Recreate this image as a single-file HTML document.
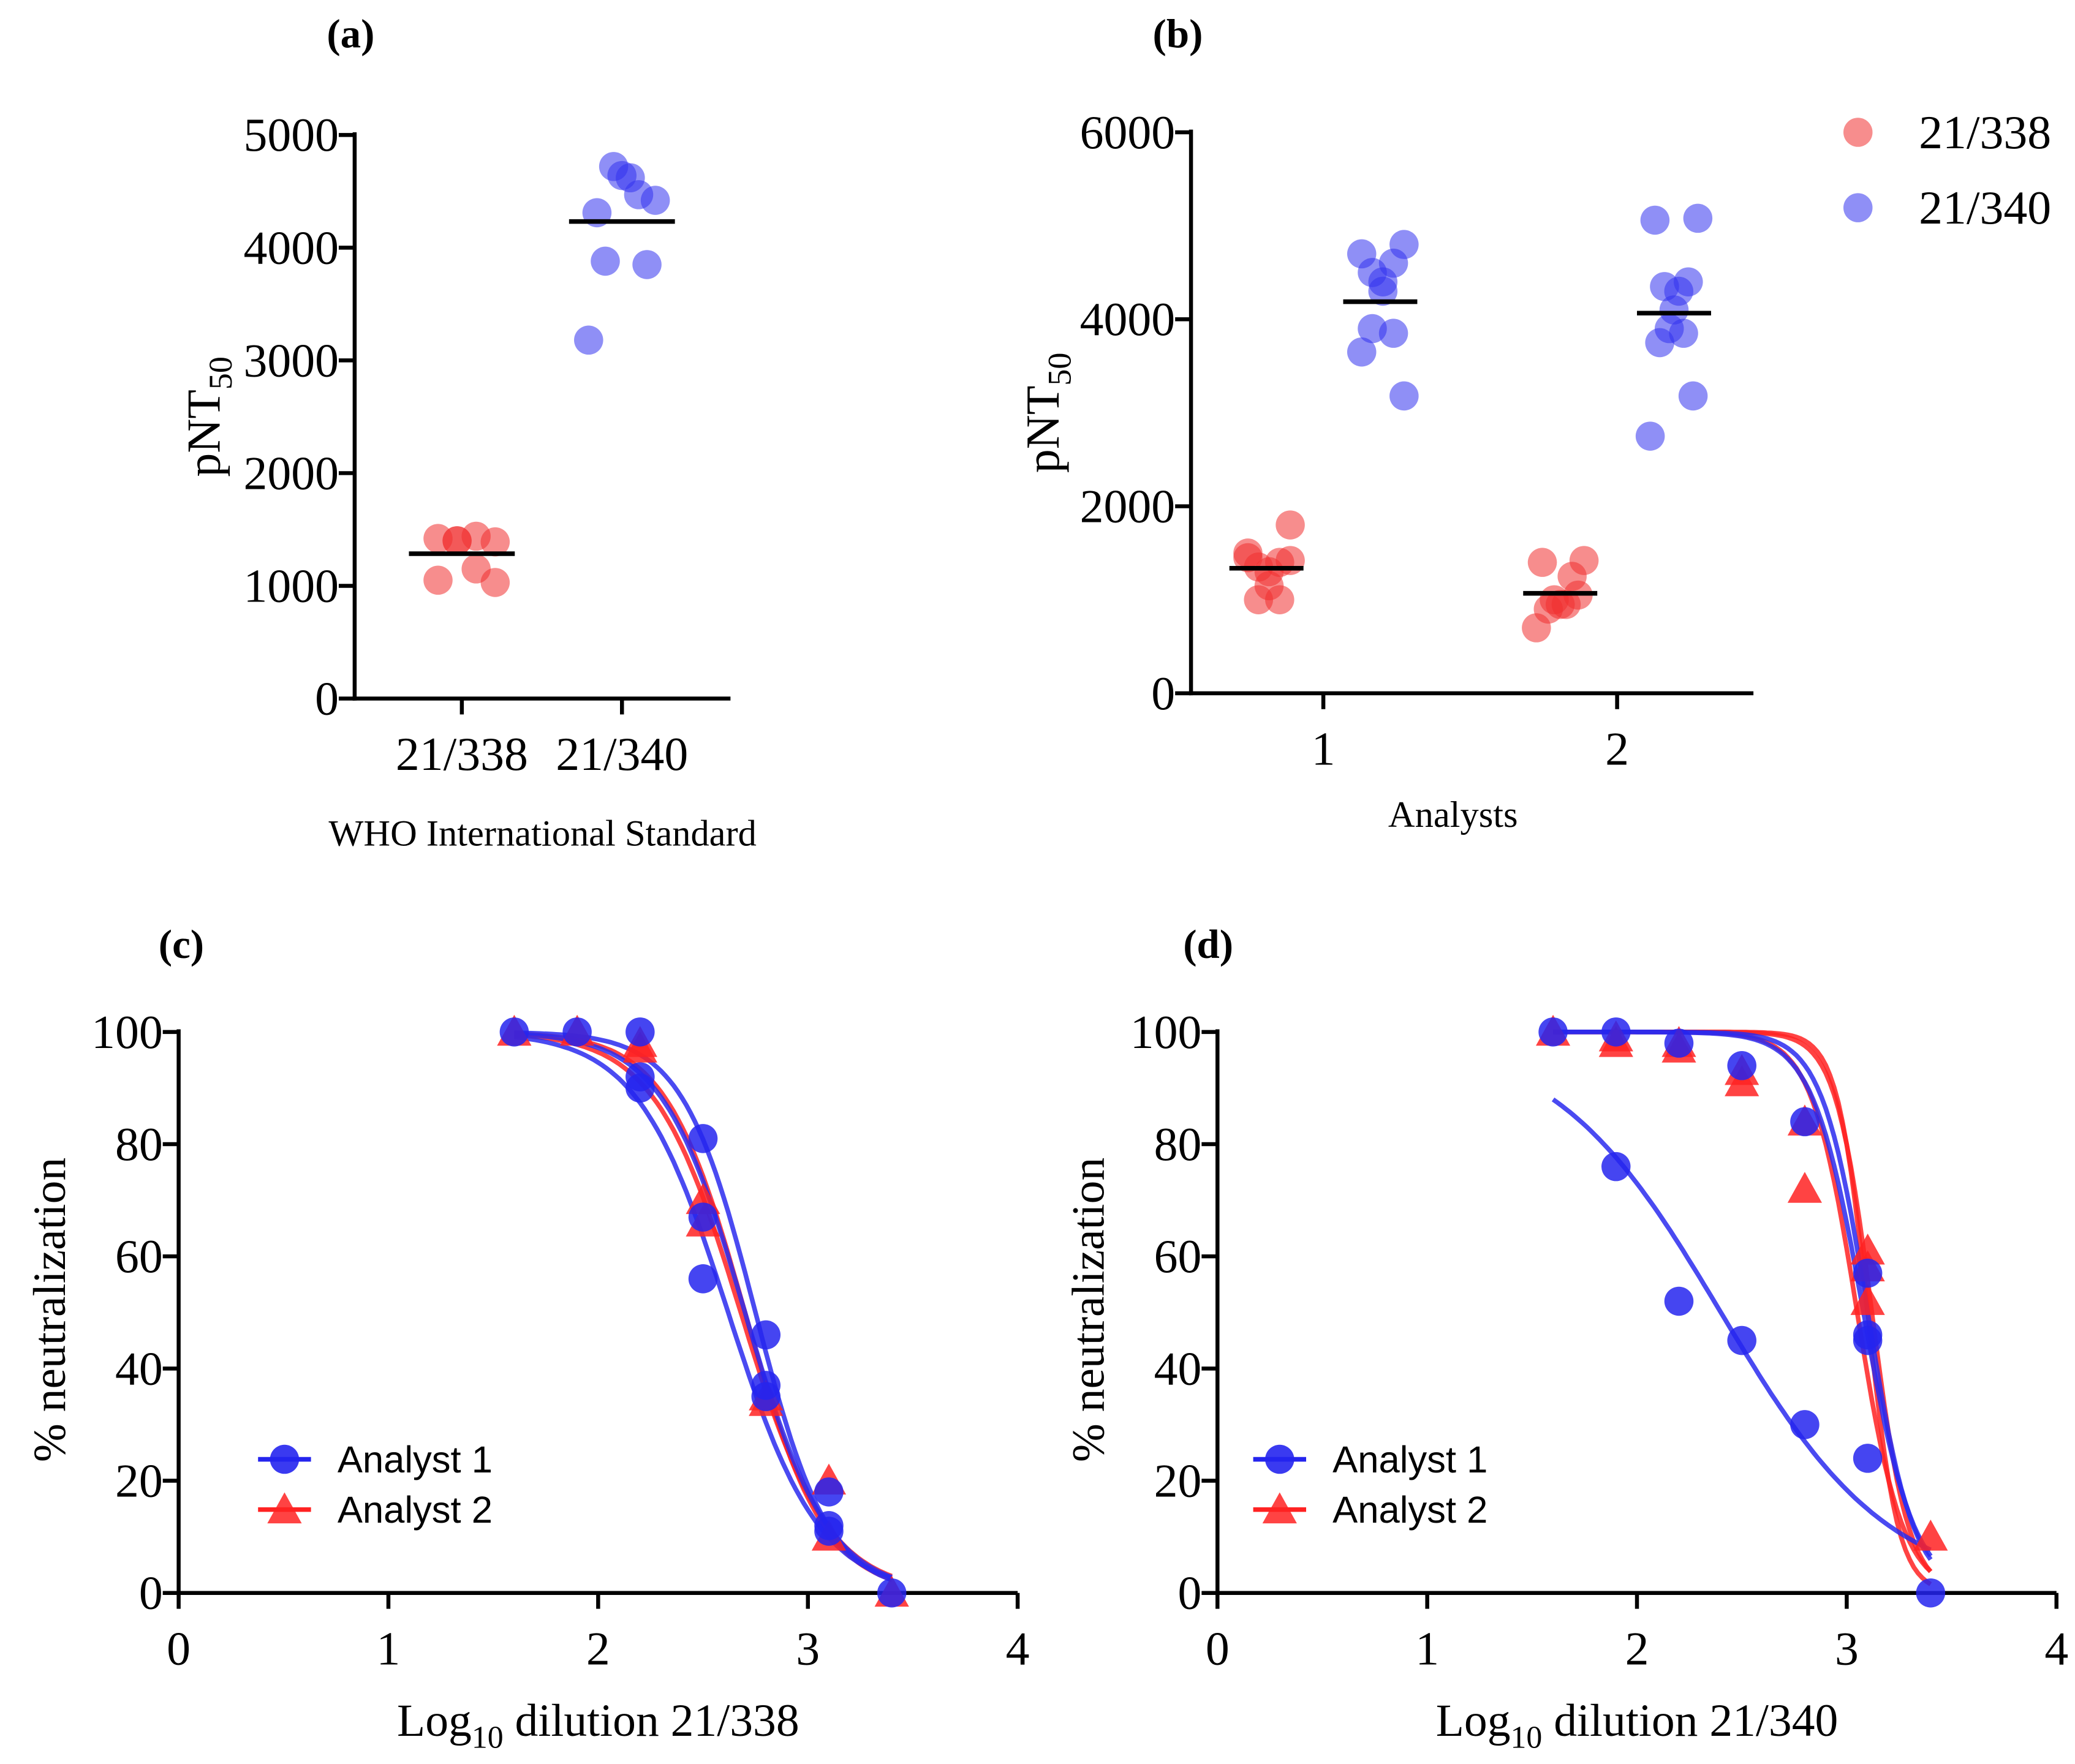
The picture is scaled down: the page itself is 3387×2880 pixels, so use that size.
<!DOCTYPE html>
<html><head><meta charset="utf-8"><style>
html,body{margin:0;padding:0;background:#fff}
svg{display:block}
text{font-family:"Liberation Serif",serif;fill:#000}
.sans{font-family:"Liberation Sans",sans-serif}
</style></head><body>
<svg id="fig" width="3387" height="2880" viewBox="0 0 1568 1333.3" preserveAspectRatio="none" xmlns="http://www.w3.org/2000/svg">
<text x="265" y="36" font-size="31" font-weight="bold" text-anchor="middle">(a)</text>
<text x="890" y="36" font-size="31" font-weight="bold" text-anchor="middle">(b)</text>
<text x="137" y="724" font-size="31" font-weight="bold" text-anchor="middle">(c)</text>
<text x="913" y="724" font-size="31" font-weight="bold" text-anchor="middle">(d)</text>
</svg>
<script>
// Panel a data
const aCats=["21/338","21/340"];
const aRed=[1390,1420,1440,1400,1400,1150,1050,1030];
const aBlue=[4420,4310,4470,4720,4640,4620,3880,3850,3180];
const aTicks=[0,1000,2000,3000,4000,5000];
// Panel b data
const bCats=["1","2"];
const bRed1=[1800,1450,1400,1350,1300,1150,1000,1000,1500,1420];
const bBlue1=[4800,4700,4600,4500,4400,4300,3900,3850,3650,3180];
const bRed2=[1420,1400,1250,1000,950,950,900,1050,700];
const bBlue2=[5080,5060,4400,4350,4300,4100,3900,3850,3750,3180,2750];
const bTicks=[0,2000,4000,6000];
// Panel c/d data
const doses=[1.6,1.9,2.2,2.5,2.8,3.1,3.4];
const xTicks=[0,1,2,3,4];
const yTicks=[0,20,40,60,80,100];
const cBluePts=[[1.6,100],[1.9,100],[2.2,100],[2.2,92],[2.2,90],[2.5,81],[2.5,67],[2.5,56],[2.8,46],[2.8,37],[2.8,35],[3.1,18],[3.1,12],[3.1,11],[3.4,0]];
const cRedPts=[[1.6,100],[1.9,100],[2.2,98],[2.2,97],[2.5,70],[2.5,66],[2.8,35],[2.8,34],[3.1,20],[3.1,10],[3.4,0]];
const cBlueFits=[[2.62,2.0],[2.70,2.2],[2.75,2.5]];
const cRedFits=[[2.70,2.3],[2.68,2.1]];
const dBluePts=[[1.6,100],[1.9,100],[1.9,76],[2.2,98],[2.2,52],[2.5,94],[2.5,45],[2.8,84],[2.8,30],[3.1,57],[3.1,46],[3.1,45],[3.1,24],[3.4,0]];
const dRedPts=[[1.6,100],[1.9,99],[1.9,98],[2.2,98],[2.2,97],[2.5,91],[2.5,93],[2.8,84],[2.8,72],[3.1,61],[3.1,58],[3.1,52],[3.4,10]];
const dBlueFits=[[2.4,1.08],[3.1,4.0],[3.08,3.6]];
const dRedFits=[[3.12,5.0],[3.10,6.0],[3.05,4.0]];

const NS="http://www.w3.org/2000/svg";
const svg=document.getElementById('fig');
function mk(tag,attrs,parent,txt){const e=document.createElementNS(NS,tag);for(const k in attrs)e.setAttribute(k,attrs[k]);if(txt!==undefined)e.textContent=txt;(parent||svg).appendChild(e);return e;}

function axes(g,x0,x1,y0,y1,yT,ys,xT,xs,nm){
  let e=mk('line',{x1:x0,y1:y1-2,x2:x0,y2:y0+1.5,stroke:'#000','stroke-width':3},g);
  
  
  e=mk('line',{x1:x0-1.5,y1:y0,x2:x1,y2:y0,stroke:'#000','stroke-width':3},g);
  
  
  yT.forEach(v=>{const y=ys(v);
    mk('line',{x1:x0-12,y1:y,x2:x0,y2:y,stroke:'#000','stroke-width':3},g);
    e=mk('text',{x:x0-12,y:y+12,'font-size':36,'text-anchor':'end'},g,v);
    
    });
  xT.forEach(t=>{const x=xs(t.v);
    mk('line',{x1:x,y1:y0,x2:x,y2:y0+12,stroke:'#000','stroke-width':3},g);
    e=mk('text',{x:x,y:y0+54,'font-size':36,'text-anchor':'middle'},g,t.l);
    
    });
}
function dot(g,x,y,c,op,r,nm){const e=mk('circle',{cx:x,cy:y,r:r,fill:c,'fill-opacity':op},g);
  
  }
function jit(i,n,w){return n<=1?0:(i/(n-1)-0.5)*w;}

// Panel a
{const g=mk('g',{});
 
 
 const ys=v=>528-v*0.0852; const xs=i=>[349,470][i];
 axes(g,268,552,528,102,aTicks,ys,aCats.map((l,i)=>({v:i,l})),xs,'panel-a');
 [[aRed,'#f03030',0],[aBlue,'#3333ee',1]].forEach(([arr,c,i])=>{
  arr.forEach((v,k)=>dot(g,xs(i)+jit(k,arr.length,56)*(k%2?1:-1)*0.9,ys(v),c,0.55,11,'panel-a-point'));
  const m=arr.reduce((a,b)=>a+b,0)/arr.length;
  const l=mk('line',{x1:xs(i)-40,x2:xs(i)+40,y1:ys(m),y2:ys(m),stroke:'#000','stroke-width':3.5},g);
  
  });
 let t=mk('text',{transform:'translate(166,315) rotate(-90)','font-size':36,'text-anchor':'middle'},g);
 t.innerHTML='pNT<tspan font-size="25" dy="9">50</tspan>';
 
 
 t=mk('text',{x:410,y:639,'font-size':28,'text-anchor':'middle'},g,'WHO International Standard');
 
 }

// Panel b
{const g=mk('g',{});
 
 
 const ys=v=>524-v*0.07067; const xs=i=>[1000,1222][i];
 axes(g,900,1325,524,100,bTicks,ys,bCats.map((l,i)=>({v:i,l})),xs,'panel-b');
 [[bRed1,'#f03030',0,-43],[bBlue1,'#3333ee',0,43],[bRed2,'#f03030',1,-43],[bBlue2,'#3333ee',1,43]].forEach(([arr,c,i,off])=>{
  const cx=xs(i)+off;
  arr.forEach((v,k)=>dot(g,cx+jit(k,arr.length,36)*(k%2?1:-1),ys(v),c,0.55,11,'panel-b-point'));
  const m=arr.reduce((a,b)=>a+b,0)/arr.length;
  const l=mk('line',{x1:cx-28,x2:cx+28,y1:ys(m),y2:ys(m),stroke:'#000','stroke-width':3.5},g);
  
  });
 let t=mk('text',{transform:'translate(800,312) rotate(-90)','font-size':36,'text-anchor':'middle'},g);
 t.innerHTML='pNT<tspan font-size="25" dy="9">50</tspan>';
 
 
 t=mk('text',{x:1098,y:625,'font-size':28,'text-anchor':'middle'},g,'Analysts');
 
 
 [['21/338','#f03030',100],['21/340','#3333ee',157]].forEach(([l,c,y])=>{
  dot(g,1404,y,c,0.55,11,'legend-marker');
  const e=mk('text',{x:1450,y:y+12,'font-size':36},g,l);
  
  });}

// Panels c, d
function tri(g,x,y,c){const s=13;const e=mk('polygon',{points:`${x},${y-s} ${x-s},${y+s*0.8} ${x+s},${y+s*0.8}`,fill:c,'fill-opacity':0.85},g);
 
 }
function curvePanel(x0,bp,rp,bf,rf,lbl,nm,lx){
 const g=mk('g',{});
 
 
 const xs=v=>x0+v*158.5, ys=v=>1204-v*4.24;
 axes(g,x0,x0+634,1204,780,yTicks,ys,xTicks.map(v=>({v,l:v})),xs,nm);
 const fit=(arr,c)=>arr.forEach(([ec,h])=>{let d='';
  for(let x=doses[0];x<=doses[doses.length-1]+1e-9;x+=0.02){const y=100/(1+Math.pow(10,(x-ec)*h));d+=(d?'L':'M')+xs(x).toFixed(1)+','+ys(y).toFixed(1);}
  const p=mk('path',{d,fill:'none',stroke:c,'stroke-width':3.5,'stroke-opacity':0.85},g);
  
  });
 fit(rf,'#f22'); fit(bf,'#2a2aee');
 rp.forEach(([x,y])=>tri(g,xs(x),ys(y),'#f22'));
 bp.forEach(([x,y])=>dot(g,xs(x),ys(y),'#2525ee',0.85,11,nm+'-point'));
 let t=mk('text',{transform:`translate(${x0-86},990) rotate(-90)`,'font-size':35,'text-anchor':'middle'},g,'% neutralization');
 
 
 t=mk('text',{x:x0+317,y:1312,'font-size':35,'text-anchor':'middle'},g);
 t.innerHTML='Log<tspan font-size="24" dy="9">10</tspan><tspan dy="-9"> dilution '+lbl+'</tspan>';
 
 
 [['Analyst 1','#2525ee',1103,0],['Analyst 2','#f22',1141,1]].forEach(([l,c,y,k])=>{
  const ln=mk('line',{x1:lx,x2:lx+40,y1:y,y2:y,stroke:c,'stroke-width':3.5},g);
  
  
  if(k)tri(g,lx+20,y,c);else dot(g,lx+20,y,c,0.9,11,'legend-marker');
  const e=mk('text',{x:lx+60,y:y+10,'font-size':28.5,'class':'sans'},g,l);
  
  });
}
curvePanel(135,cBluePts,cRedPts,cBlueFits,cRedFits,'21/338','panel-c',195);
curvePanel(920,dBluePts,dRedPts,dBlueFits,dRedFits,'21/340','panel-d',947);
</script>
</body></html>
